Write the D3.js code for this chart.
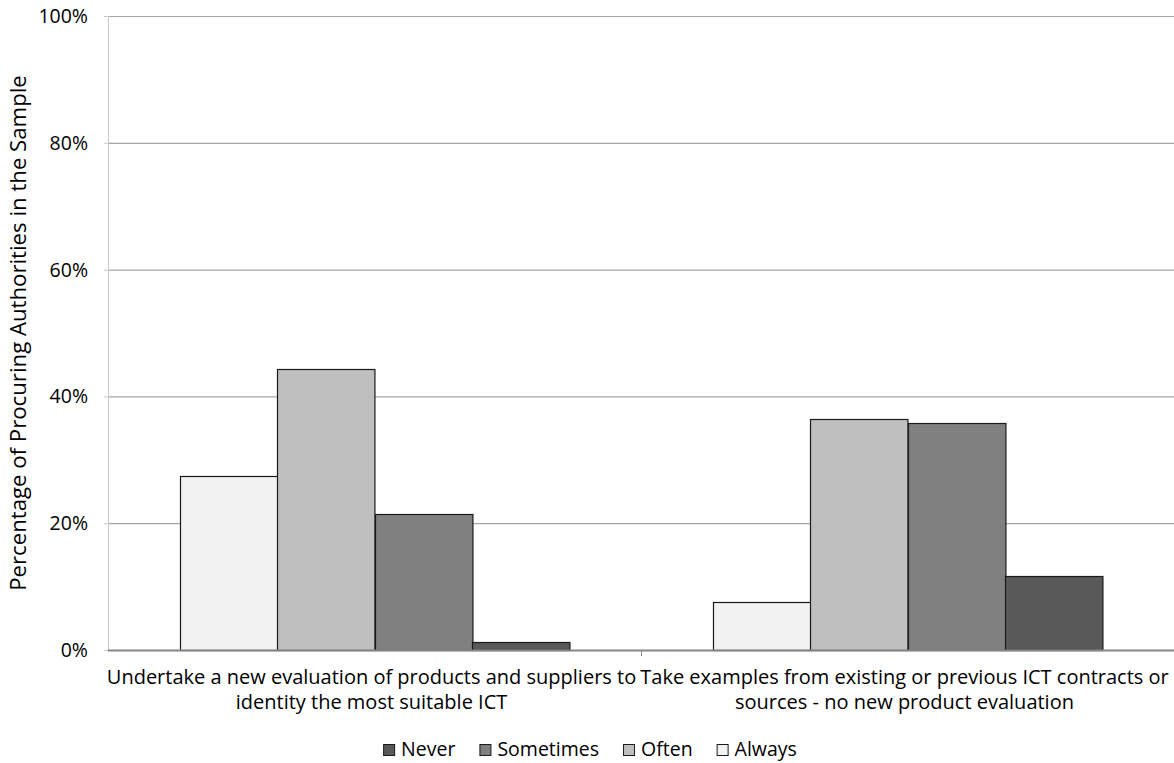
<!DOCTYPE html>
<html><head><meta charset="utf-8">
<script src="https://cdn.jsdelivr.net/npm/d3@7"></script>
<style>body{margin:0;background:#fff}svg{display:block}text{font-family:"Open Sans",sans-serif;fill:#000}</style>
</head><body><svg id="c" width="1174" height="763"></svg>
<script>
const categories = [
  ["Undertake a new evaluation of products and suppliers to", "identity the most suitable ICT"],
  ["Take examples from existing or previous ICT contracts or", "sources - no new product evaluation"]
];
const seriesNames = ["Always", "Often", "Sometimes", "Never"];
const always = [27.5, 7.5];
const often = [44.3, 36.5];
const sometimes = [21.4, 35.8];
const never = [1.3, 11.6];
const legendOrder = ["Never", "Sometimes", "Often", "Always"];
const yTicks = [0, 20, 40, 60, 80, 100];
const colors = {Always:"#f2f2f2", Often:"#bfbfbf", Sometimes:"#808080", Never:"#595959"};
const values = {Always: always, Often: often, Sometimes: sometimes, Never: never};

const svg = d3.select("#c");
const FS = 19.5;
const m = {l:108, r:1174, t:16, b:650};
const x0 = d3.scaleBand().domain(d3.range(categories.length)).range([m.l, m.r]).paddingInner(0).paddingOuter(0);
const x1 = d3.scaleBand().domain(seriesNames).range([0, x0.bandwidth()]).paddingOuter(0.735).paddingInner(0);
const y = d3.scaleLinear().domain([0, 100]).range([m.b, m.t]);

// gridlines
svg.append("g").selectAll("line").data(yTicks.filter(d=>d>0)).join("line")
  .attr("x1", m.l).attr("x2", m.r).attr("y1", d=>y(d)+0.5).attr("y2", d=>y(d)+0.5)
  .attr("stroke", "#a6a6a6").attr("stroke-width", 1.2);
// y axis line
svg.append("line").attr("x1", m.l+0.5).attr("x2", m.l+0.5).attr("y1", m.t).attr("y2", m.b)
  .attr("stroke", "#c8c8c8");
svg.append("g").selectAll("line").data(yTicks).join("line")
  .attr("x1", m.l-4).attr("x2", m.l).attr("y1", d=>y(d)+0.5).attr("y2", d=>y(d)+0.5).attr("stroke","#c8c8c8");
// y tick labels
svg.append("g").selectAll("text").data(yTicks).join("text")
  .attr("x", 88).attr("y", d=>y(d)+7).attr("text-anchor","end").attr("font-size", FS)
  .text(d=>d+"%");

// bars
const g = svg.append("g");
categories.forEach((c, i) => {
  seriesNames.forEach(s => {
    const v = values[s][i];
    g.append("rect")
      .attr("x", Math.round(x0(i) + x1(s)) + 0.5)
      .attr("y", Math.round(y(v)) + 0.5)
      .attr("width", x1.bandwidth())
      .attr("height", m.b - Math.round(y(v)))
      .attr("fill", colors[s]).attr("stroke", "#1a1a1a").attr("stroke-width", 1.2);
  });
});

// x axis baseline
svg.append("line").attr("x1", m.l).attr("x2", m.r).attr("y1", m.b+0.5).attr("y2", m.b+0.5)
  .attr("stroke", "#868686").attr("stroke-width", 1.8);
svg.append("g").selectAll("line").data(d3.range(1, categories.length)).join("line")
  .attr("x1", d=>x0(d)+0.5).attr("x2", d=>x0(d)+0.5).attr("y1", m.b).attr("y2", m.b+6)
  .attr("stroke", "#868686");

// x labels
const labelShift = [-3, -3];
categories.forEach((c, i) => {
  const cx = x0(i) + x0.bandwidth()/2 + labelShift[i];
  c.forEach((line, j) => svg.append("text").attr("text-anchor","middle").attr("font-size", 20)
    .attr("x", cx).attr("y", 684 + j*25).text(line));
});

// y title
svg.append("text").attr("transform", "translate(26,333) rotate(-90)").attr("text-anchor","middle")
  .attr("font-size", 22.2).text("Percentage of Procuring Authorities in the Sample");

// legend
const lg = svg.append("g");
let lx = 0;
legendOrder.forEach(s => {
  const it = lg.append("g");
  it.append("rect").attr("x", 0.5).attr("y", 744.5).attr("width", 11).attr("height", 11)
    .attr("fill", colors[s]).attr("stroke", "#1a1a1a");
  const tx = it.append("text").attr("x", 18).attr("y", 756).attr("font-size", FS).text(s);
  const w = 18 + tx.node().getComputedTextLength();
  it.attr("transform", `translate(${lx},0)`);
  lx += w + 24;
});
const total = lx - 24;
lg.attr("transform", `translate(${590 - total/2},0)`);
</script></body></html>
